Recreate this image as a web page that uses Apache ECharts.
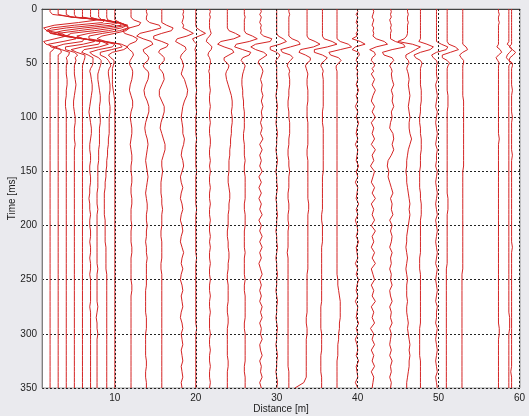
<!DOCTYPE html>
<html><head><meta charset="utf-8">
<script src="https://cdn.jsdelivr.net/npm/echarts@6/dist/echarts.min.js"></script>
<style>html,body{margin:0;padding:0;background:#eaeaee}#c{width:529px;height:416px}</style>
</head><body><div id="c"></div>
<script>
// time samples (ms)
const timeMs = [0,2.5,5,7.5,10,12.5,15,17.5,20,22.5,25,27.5,30,32.5,35,37.5,40,42.5,45,47.5,50,52.5,55,57.5,60,
 65,70,75,80,85,90,95,100,105,110,
 115,120,125,130,135,140,145,150,155,160,
 165,170,175,180,185,190,195,200,205,210,
 215,220,225,230,235,240,245,250,255,260,
 265,270,275,280,285,290,295,300,305,310,
 315,320,325,330,335,340,345,350];

// trace positions (m)
const traceDist = [2,3,4,5,6,7,8,9,10,12,13.9,15.8,18.3,20,21.7,23.9,26,28,30,31.5,33.75,35.65,37.45,39.92,41.89,44.06,46.16,47.76,49.74,51.06,52.99,57.4,58.68,59.02];

// trace deflections, in tenths of a metre, one per time sample
const w02 = [0,0,3,30,60,35,5,-8,-4,14,20,6,-8,-5,6,4,0,0,0,0,0,0,0,0,0,
 0,0,0,0,0,0,0,0,0,0, 0,0,0,0,0,0,0,0,0,0, 0,0,0,0,0,0,0,0,0,0, 0,0,0,0,0,0,0,0,0,0, 0,0,0,0,0,0,0,0,0,0, 0,0,0,0,0,0,0,0];
const w03 = [0,0,0,15,58,55,20,-8,-15,-6,14,22,6,-12,-9,3,4,0,0,0,0,0,0,0,0,
 0,0,0,0,0,0,0,0,0,0, 0,0,0,0,0,0,0,0,0,0, 0,0,0,0,0,0,0,0,0,0, 0,0,0,0,0,0,0,0,0,0, 0,0,0,0,0,0,0,0,0,0, 0,0,0,0,0,0,0,0];
const w04 = [0,0,0,6,45,60,35,0,-22,-20,0,22,20,-3,-14,-6,4,3,0,1,1,0,0,0,0,
 1,1,0,0,-1,-1,0,0,0,0, 0,0,0,0,0,0,0,0,0,0, 0,0,0,0,0,0,0,0,0,0, 0,0,0,0,0,0,0,0,0,0, 0,0,0,0,0,0,0,0,0,0, 0,0,0,0,0,0,0,0];
const w05 = [0,0,0,2,32,55,45,12,-14,-28,-14,14,25,11,-11,-11,0,4,1,2,1,0,0,0,0,
 1,2,1,0,-1,-1,0,1,1,0, 0,0,1,0,0,0,0,0,0,0, 0,0,0,0,0,0,0,0,0,0, 0,0,0,0,0,0,0,0,0,0, 0,0,0,0,0,0,0,0,0,0, 0,0,0,0,0,0,0,0];
const w06 = [0,0,0,0,20,46,48,22,-5,-30,-25,0,22,20,0,-14,-7,3,3,2,1,0,0,0,0,
 0,0,0,0,0,0,0,0,0,0, 0,0,0,0,0,0,0,0,0,0, 0,0,0,0,0,0,0,0,0,0, 0,0,0,0,0,0,0,0,0,0, 0,0,0,0,0,0,0,0,0,0, 0,0,0,0,0,0,0,0];
const w07 = [0,0,0,0,10,36,44,28,5,-24,-30,-11,14,22,11,-8,-11,-3,3,3,3,2,0,-1,0,
 1,2,2,1,0,-1,-2,-1,0,1, 1,0,-1,-1,0,0,-1,-1,0,0, -1,-1,-2,-1,-1,0,-1,-1,0,0, -1,0,0,-1,0,0,-1,0,0,0, 0,0,-1,0,0,0,0,0,0,0, 0,0,0,0,0,0,0,0];
const w08 = [0,0,0,0,4,24,36,28,12,-12,-27,-19,6,20,17,0,-11,-7,0,3,3,2,1,0,-1,
 -1,0,1,2,2,1,1,2,2,1, 1,1,1,0,0,0,-1,-1,-1,-1, -1,-2,-2,-2,-1,-2,-2,-2,-2,-2, -2,-2,-2,-2,-2,-1,-2,-2,-2,-2, -2,-2,-1,-2,-3,-2,-2,-1,-2,-2, -2,-2,-2,-2,-2,-2,-2,-2];
const w09 = [0,0,0,0,1,12,24,26,16,-5,-22,-22,-3,16,19,6,-8,-8,-1,2,4,5,3,2,2,
 3,4,4,3,3,4,4,3,3,3, 3,2,2,1,1,0,0,-1,-1,-2, -2,-3,-3,-3,-3,-3,-2,-2,-2,-2, -2,-1,-1,-1,-1,-1,0,0,0,0, 0,0,0,0,0,0,0,0,0,0, 0,0,0,0,0,0,0,0];
const w10 = [0,0,0,0,0,6,14,18,14,0,-16,-22,-11,8,16,11,-3,-8,-5,-1,-1,-2,-3,-3,-3,
 -3,-3,-2,-1,0,0,0,0,0,0, 0,0,0,0,0,0,0,0,0,0, 0,0,0,0,0,0,0,0,0,0, 0,0,0,0,0,0,0,0,0,0, 0,0,0,0,0,0,0,0,0,0, 0,0,0,0,0,0,0,0];
const w12 = [0,0,0,0,3,12,10,-2,-10,-8,2,8,6,-2,-5,-2,2,3,1,-1,-2,-1,1,2,2,
 1,-1,-2,0,2,2,0,-1,0,1, 1,0,-1,0,1,1,0,0,1,1, 0,0,1,1,0,0,0,1,0,0, 0,1,1,0,0,0,0,0,1,1, 0,0,0,0,0,0,0,0,0,0, 0,0,0,0,0,0,0,0];
const w14 = [0,0,1,0,0,4,16,18,6,-8,-12,-4,6,8,2,-4,-3,1,3,2,-2,-4,-2,2,3,
 2,-1,-3,-2,1,3,3,1,-1,-2, -1,1,2,1,0,-1,0,1,2,1, 0,-1,0,1,1,0,0,1,0,0, -1,0,0,1,0,0,0,0,0,-1, -1,-1,-1,-1,0,0,0,-1,-1,-1, -1,-1,0,0,-1,-1,0,0];
const w16 = [0,0,0,0,0,0,6,14,12,0,-10,-10,0,8,6,-2,-4,0,3,3,0,-3,-3,0,2,
 3,0,-3,-3,0,3,3,1,-1,-2, 0,2,4,4,2,0,0,1,0,-1, -1,-1,0,0,1,0,0,0,-1,-1, 0,0,0,0,-1,-1,0,0,0,0, 0,0,0,0,0,0,0,0,0,0, 0,0,0,0,0,0,0,0];
const w18 = [1,2,1,2,1,0,2,1,8,14,6,-6,-8,-2,4,5,2,-1,-2,0,1,2,1,0,-1,
 3,5,7,6,3,1,0,-1,0,1, 1,3,2,0,-1,1,2,0,-2,-1, 1,-1,-2,0,1,-1,-2,0,1,-1, -2,0,2,0,-1,1,-1,-2,0,1, -1,0,1,-1,-2,0,1,-1,0,1, -1,0,1,-1,0,1,-1,0];
const w20 = [0,0,0,0,0,0,0,1,6,12,4,-4,-2,1,0,-1,0,0,0,0,0,0,0,0,0,
 0,0,1,0,0,0,1,0,0,0, 0,1,0,0,0,0,0,1,0,0, 0,0,0,0,1,0,0,0,0,0, 0,0,0,1,0,0,0,0,0,0, 0,0,0,0,0,0,1,0,0,0, 0,0,0,0,0,0,0,0];
const w21 = [0,1,0,1,0,0,0,0,1,2,0,-3,-4,0,3,2,-1,-2,0,1,1,0,0,-1,0,
 0,0,1,0,0,1,0,0,1,0, 0,1,1,0,0,1,0,1,0,0, 1,0,0,1,0,0,1,0,0,1, 0,1,0,0,1,0,0,1,0,0, 1,0,0,1,0,0,0,1,0,0, 1,0,0,1,0,0,1,0];
const w24 = [0,0,0,0,0,0,0,0,2,10,16,8,-8,-12,-4,6,8,2,-4,-4,0,2,1,-1,-2,
 -1,1,3,5,6,6,5,6,6,5, 5,4,4,3,3,2,2,2,1,1, 2,3,3,2,2,1,1,1,0,0, 1,1,2,2,1,1,0,0,1,1, 1,1,0,0,1,1,0,0,0,0, 0,0,1,1,0,0,0,0];
const w26 = [0,0,0,1,0,0,0,0,0,2,10,16,6,-10,-12,-2,8,6,-2,-4,-1,1,0,-1,-2,
 -3,-3,-2,-2,-1,-1,0,0,0,0, -1,-1,0,0,0,1,0,0,1,1, 1,1,1,0,0,1,1,1,0,0, 0,0,1,0,0,0,0,1,0,0, 1,1,1,1,1,0,0,1,1,1, 1,1,1,0,0,1,1,1];
const w28 = [0,1,-1,1,0,-1,1,0,1,0,4,14,12,-6,-12,-6,4,8,3,-2,-3,0,2,3,2,
 0,2,1,3,1,3,1,2,0,2, 0,3,-1,2,-1,1,-1,2,-2,1, -2,1,-2,1,-1,2,-2,1,-1,2, -1,2,-1,1,-2,0,2,-1,1,-1, 1,-1,2,0,2,-1,1,0,2,-1, 0,2,-1,1,0,2,-1,1];
const w30 = [0,0,0,0,0,0,0,0,0,0,2,8,12,4,-8,-8,0,4,2,-1,-1,0,0,0,0,
 0,1,0,-1,0,1,0,0,-1,0, 1,0,0,-1,0,1,0,-1,0,0, 1,0,-1,0,0,1,0,0,-1,0, 0,1,0,-1,0,0,1,0,0,-1, 0,1,0,0,-1,0,1,0,0,-1, 0,1,0,0,-1,0,1,0];
const w31 = [0,0,1,0,0,0,0,0,0,0,0,4,12,14,2,-10,-8,2,5,2,-1,-2,0,1,0,
 1,1,0,0,-1,-1,0,0,1,1, 1,0,0,-1,-1,0,0,1,0,0, 0,-1,-1,0,0,-1,-1,0,-1,-1, -1,-1,-2,-1,-1,-1,-1,-1,-1,-1, -1,-1,-1,-1,-1,-1,-1,-1,-1,-1, -1,-1,-1,-1,0,0,0,0];
const w33 = [0,0,0,0,0,0,0,0,0,0,0,2,10,16,8,-8,-10,-2,4,4,0,-2,-1,0,1,
 0,0,1,1,1,0,0,0,1,1, 1,1,1,0,0,1,1,1,1,1, 1,1,1,2,2,1,1,1,1,1, 1,1,1,1,1,1,0,0,0,0, 0,0,0,0,-1,-1,0,0,-1,-1, -1,-1,-1,-1,-1,-1,-4,-15];
const w35 = [0,0,0,0,0,0,0,0,0,0,0,2,12,18,6,-10,-10,0,6,3,-1,-2,0,1,0,
 1,1,1,1,1,1,0,0,0,1, 1,1,1,1,1,1,1,1,0,0, 0,0,0,0,0,-1,-1,0,0,0, 0,-1,-1,-1,-1,-1,-1,-1,-1,-1, -1,-1,-2,-2,-2,-2,-2,-1,-1,-1, -1,-2,-2,-2,-2,-1,-1,-1];
const w37 = [0,0,0,0,0,0,0,0,0,0,0,0,4,14,18,4,-10,-8,2,5,2,-1,-1,0,0,
 0,0,0,0,0,0,0,0,0,0, 0,0,0,0,0,0,0,0,0,0, 0,0,0,0,0,0,0,0,0,0, 0,0,0,0,0,0,0,1,1,2, 3,4,4,4,4,3,3,2,2,1, 1,1,0,0,0,0,0,0];
const w40 = [0,1,-1,1,0,-1,1,0,1,-1,0,-6,4,10,-2,-6,2,3,0,-1,1,0,-1,1,0,
 1,-1,2,-1,1,-2,1,-1,2,0, -1,1,-2,1,0,-1,2,-1,1,-2, 1,0,-1,2,-1,1,-2,0,1,-1, 2,-1,0,1,-2,1,-1,2,0,-1, 1,-2,1,0,-1,2,-1,1,-2,0, 1,-1,2,-1,0,1,-2,1];
const w42 = [0,1,0,-1,1,0,-1,1,0,1,0,4,14,18,4,-4,2,3,-1,-2,1,2,-1,1,-2,
 2,-1,3,0,-2,2,-1,3,-2,1, -1,2,-2,3,-1,1,-3,2,0,-2, 2,-1,3,-2,1,-1,2,-2,3,-1, 1,-2,2,-1,3,-2,0,2,-2,1, -1,3,-2,1,-1,2,-3,1,-1,2, -2,1,-1,2,-2,1,0,-1];
const w44 = [0,1,0,1,-1,0,1,0,1,0,0,0,6,16,18,2,-10,-8,2,4,1,-1,1,2,1,
 2,4,1,3,2,4,1,2,0,-1, 3,4,2,4,1,-3,-4,-2,-3,-1, 1,3,0,2,1,3,-1,2,0,2, 1,-1,2,0,1,-1,1,0,2,-1, 0,2,-1,1,0,2,-1,1,0,-1, 1,-1,2,0,1,-1,1,0];
const w46 = [0,0,1,0,0,1,0,0,0,0,-1,-4,-12,6,16,10,4,-2,-2,1,2,0,-1,0,1,
 2,1,2,3,2,1,2,3,2,2, 3,5,3,1,0,-1,-1,-2,-1,-1, 0,1,2,3,2,3,2,1,0,-1, -1,-2,-1,0,-1,-2,-1,0,-1,-1, -1,0,-1,-1,0,1,0,1,2,3, 2,3,2,2,1,0,-1,-1];
const w48 = [0,0,0,0,0,0,0,0,0,0,0,0,-2,8,16,12,0,-8,-6,0,2,1,0,0,0,
 0,0,1,1,1,0,0,-1,-1,0, 0,1,1,1,0,0,0,-1,-1,-1, -1,0,0,1,1,1,0,0,0,0, 0,0,0,-1,-1,-1,0,0,0,0, 0,0,0,0,0,0,-1,-1,-1,-1, -1,-1,0,0,0,0,0,0];
const w50 = [0,0,0,0,0,0,0,0,0,0,0,0,0,6,14,12,0,-6,-4,0,1,0,0,0,0,
 1,-1,0,1,0,-1,1,0,-1,0, 1,0,-1,1,0,0,-1,1,0,-1, 0,1,0,-1,0,1,-1,0,1,0, -1,0,1,0,-1,1,0,-1,0,1, 0,-1,1,0,0,-1,1,0,-1,0, 1,0,-1,0,1,-1,0,1];
const w51 = [0,0,0,0,0,0,0,0,0,0,0,0,0,2,10,14,4,-6,-6,0,3,1,0,0,0,
 0,0,0,1,1,1,0,0,0,0, 0,0,0,0,0,0,0,0,0,0, 0,0,1,1,1,0,0,0,0,0, 0,0,0,0,0,-1,-1,-1,-1,-1, -1,-1,-1,-1,-1,-1,-1,-1,-1,-1, -1,-1,-1,-1,-1,-1,-1,-1];
const w53 = [0,0,0,0,0,0,0,0,0,0,0,0,0,0,4,6,0,-4,-2,1,1,0,0,0,0,
 0,0,0,0,1,1,1,1,1,1, 1,1,1,1,1,1,1,0,0,0, 0,0,0,0,0,0,0,0,0,0, 0,0,0,0,0,0,-1,-1,-1,-1, -1,-1,-1,-1,-1,-1,-1,-1,-1,-1, -1,-1,-1,-1,-1,-1,-1,-1];
const w57 = [0,0,1,0,0,1,0,0,0,0,0,0,0,0,-2,2,4,0,-3,-1,1,0,0,0,0,
 0,0,0,0,0,0,0,0,0,0, 0,1,0,0,0,0,0,0,0,0, 0,0,0,0,0,0,0,0,0,0, 0,0,0,0,0,0,0,0,0,0, 0,0,0,0,0,0,1,1,0,0, 0,0,0,0,0,0,0,0];
const w58a = [0,0,0,0,0,0,0,0,0,0,0,0,0,-2,2,4,1,-2,-3,0,2,0,0,0,0,
 0,0,0,0,0,0,0,0,0,0, 0,0,0,0,0,0,0,0,0,0, 0,0,0,0,0,0,0,0,0,0, 0,0,0,0,0,0,0,0,0,0, 0,0,0,0,1,1,1,0,0,0, 0,0,0,0,0,0,0,0];
const w58b = [0,0,0,0,0,0,0,0,0,0,0,0,0,0,-3,1,5,2,-2,-3,1,1,0,0,0,
 0,0,1,0,0,0,0,1,0,0, 0,0,0,0,1,0,0,0,0,0, 0,0,0,0,0,0,0,0,0,0, 0,1,0,0,0,0,0,0,0,0, 0,0,0,0,0,0,0,0,0,0, 0,0,0,0,-1,0,0,0];

const waves = [w02,w03,w04,w05,w06,w07,w08,w09,w10,w12,w14,w16,w18,w20,w21,w24,w26,w28,w30,w31,w33,w35,w37,w40,w42,w44,w46,w48,w50,w51,w53,w57,w58a,w58b];

// axis ticks
const xTicks = [10,20,30,40,50,60];

if (waves.length !== traceDist.length) throw new Error('trace count mismatch ' + waves.length + ' vs ' + traceDist.length);
waves.forEach((w, k) => { if (w.length !== timeMs.length) throw new Error('trace ' + k + ' length ' + w.length); });

const TENTH = 0.1; // deflection unit -> metres

const series = waves.map((w, k) => ({
  type: 'line',
  data: timeMs.map((t, i) => [traceDist[k] + w[i] * TENTH, t]),
  showSymbol: false,
  symbol: 'none',
  silent: true,
  clip: true,
  z: 3,
  lineStyle: { color: '#d42424', width: 1 }
}));

series.push({
  type: 'line',
  data: [],
  symbol: 'none',
  silent: true,
  z: 2,
  markLine: {
    silent: true,
    symbol: ['none', 'none'],
    animation: false,
    label: { show: false },
    lineStyle: { type: [2, 2], color: '#222', width: 1 },
    data: xTicks.map(v => ({ xAxis: v }))
  }
});

const font = 'Liberation Sans, Arial, sans-serif';
const chart = echarts.init(document.getElementById('c'), null, { renderer: 'canvas' });
chart.setOption({
  backgroundColor: '#eaeaee',
  animation: false,
  grid: { left: 42, right: 9, top: 9, bottom: 28, containLabel: false, outerBoundsMode: 'none',
          show: true, backgroundColor: '#ffffff', borderColor: '#9a9a9a', borderWidth: 1 },
  xAxis: {
    type: 'value', min: 1, max: 60.06,
    axisLine: { show: true, lineStyle: { color: '#444', width: 1 } },
    axisTick: { show: false },
    splitLine: { show: false },
    axisLabel: { customValues: xTicks, fontSize: 10, color: '#222', margin: 5, fontFamily: font },
    name: 'Distance [m]', nameLocation: 'middle', nameGap: 16, nameMoveOverlap: false,
    nameTextStyle: { fontSize: 10, color: '#222', fontFamily: font }
  },
  yAxis: {
    type: 'value', inverse: true, min: 0, max: 350, interval: 50,
    axisLine: { show: true, lineStyle: { color: '#808080', width: 1 } },
    axisTick: { show: false },
    splitLine: { show: true, lineStyle: { type: [2, 2], color: '#222', width: 1 } },
    axisLabel: { fontSize: 10, color: '#222', margin: 5, fontFamily: font },
    name: 'Time [ms]', nameLocation: 'middle', nameGap: 25, nameRotate: 90, nameMoveOverlap: false,
    nameTextStyle: { fontSize: 10, color: '#222', fontFamily: font }
  },
  series: series
});
</script></body></html>
